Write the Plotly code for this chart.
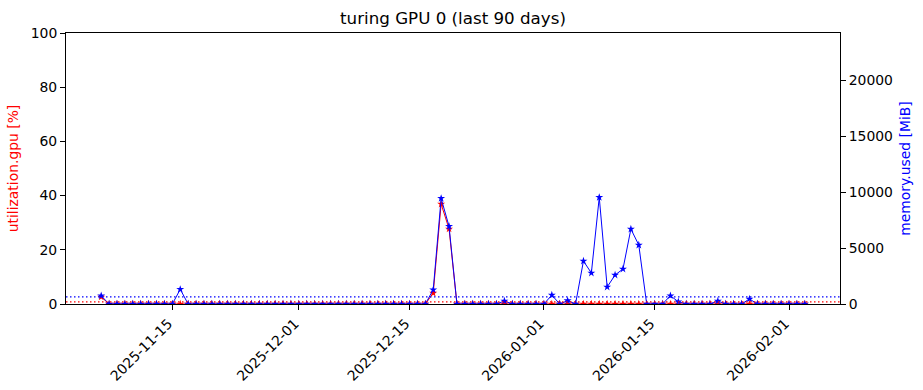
import pandas as pd
import plotly.graph_objects as go

# ---- data ----
dates = pd.date_range("2025-11-06", periods=90, freq="D")

util_pct = [0.0] * 90
for i, v in {0: 2.6, 42: 4.0, 43: 36.9, 44: 27.7}.items():
    util_pct[i] = v

mem_mib = [0.0] * 90
for i, v in {0: 740, 10: 1310, 42: 1280, 43: 9440, 44: 6940, 51: 270, 57: 800,
             59: 300, 61: 3840, 62: 2770, 63: 9530, 64: 1520, 65: 2590, 66: 3130,
             67: 6700, 68: 5270, 72: 740, 73: 200, 78: 270, 82: 450}.items():
    mem_mib[i] = v

mem_total = 24220
tick_dates = ["2025-11-15", "2025-12-01", "2025-12-15", "2026-01-01", "2026-01-15", "2026-02-01"]
left_ticks = [0, 20, 40, 60, 80, 100]
right_ticks = [0, 5000, 10000, 15000, 20000]

util_mean = sum(util_pct) / len(util_pct)
mem_mean = sum(mem_mib) / len(mem_mib)

span = dates[-1] - dates[0]
x_range = [dates[0] - span * 0.05, dates[-1] + span * 0.05]

FONT = "DejaVu Sans"

fig = go.Figure()
fig.add_trace(go.Scatter(
    x=dates, y=util_pct, mode="lines+markers", yaxis="y",
    line=dict(color="#ff0000", width=1),
    marker=dict(symbol="star", size=6, color="#ff0000"),
    showlegend=False, cliponaxis=True))
fig.add_trace(go.Scatter(
    x=dates, y=mem_mib, mode="lines+markers", yaxis="y2",
    line=dict(color="#0000ff", width=1),
    marker=dict(symbol="star", size=6, color="#0000ff"),
    showlegend=False, cliponaxis=True))

fig.add_shape(type="line", xref="paper", x0=0, x1=1, yref="y", y0=util_mean, y1=util_mean,
              line=dict(color="#ff0000", width=1.2, dash="1.5px,2.5px"))
fig.add_shape(type="line", xref="paper", x0=0, x1=1, yref="y2", y0=mem_mean, y1=mem_mean,
              line=dict(color="#0000ff", width=1.2, dash="1.5px,2.5px"))

fig.update_layout(
    width=923, height=390,
    margin=dict(l=66, r=83, t=33, b=86),
    paper_bgcolor="white", plot_bgcolor="white",
    font=dict(family=FONT, size=14, color="black"),
    title=dict(text="turing GPU 0 (last 90 days)", x=0.5, xref="paper",
               y=1 - 18 / 390, yref="container", yanchor="middle",
               font=dict(size=16.7, family=FONT, color="black")),
    xaxis=dict(range=x_range, type="date", tickvals=tick_dates, tickformat="%Y-%m-%d",
               tickangle=-45, ticks="outside", ticklen=5, tickwidth=1, tickcolor="black",
               ticklabelshift=-4,
               showline=True, linecolor="black", linewidth=1, mirror=True,
               showgrid=False, zeroline=False, automargin=False,
               tickfont=dict(size=13.9)),
    yaxis=dict(range=[0, 100], tickvals=left_ticks, ticks="outside", ticklen=5,
               tickwidth=1, tickcolor="black",
               showline=True, linecolor="black", linewidth=1, mirror=True,
               showgrid=False, zeroline=False, automargin=False,
               title=dict(text="utilization.gpu [%]", font=dict(color="#ff0000", size=13.9),
                          standoff=8),
               tickfont=dict(size=13.9)),
    yaxis2=dict(range=[0, mem_total], overlaying="y", side="right", tickvals=right_ticks,
                tickformat="d",
                ticks="outside", ticklen=5, tickwidth=1, tickcolor="black",
                showline=False, showgrid=False, zeroline=False, automargin=False,
                title=dict(text="memory.used [MiB]", font=dict(color="#0000ff", size=13.9),
                           standoff=8),
                tickfont=dict(size=13.9)),
)

fig.write_html("out.html")
